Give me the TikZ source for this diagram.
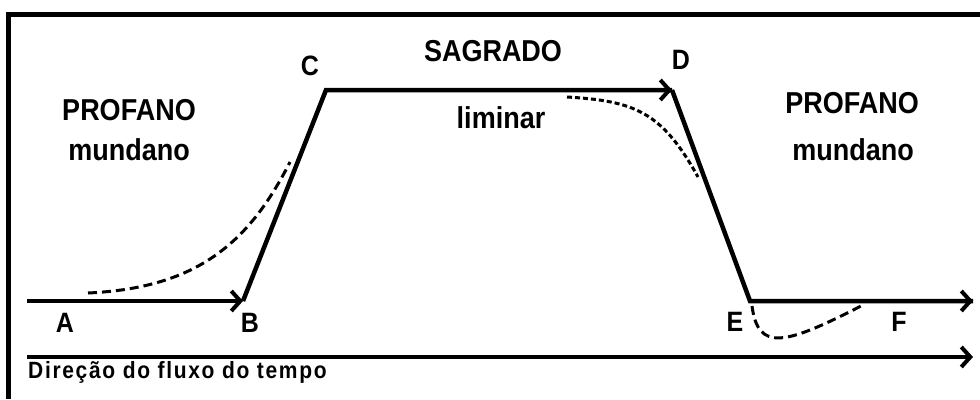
\documentclass[tikz,border=0pt]{standalone}
\usepackage{fontspec}
\setmainfont{Liberation Sans}
\newfontfamily\capfont{Liberation Sans}[LetterSpace=8]
\usetikzlibrary{arrows.meta}
\newcommand{\tallbox}[1]{\scalebox{1}[1.12]{#1}}
\tikzset{
  lbl/.style={font=\fontsize{27}{30}\selectfont\bfseries, inner sep=0pt},
  pt/.style={font=\fontsize{25}{27}\selectfont\bfseries, inner sep=0pt},
  axisline/.style={line width=4.5pt},
  arr/.style={line width=4.5pt, -{Straight Barb[length=9pt,width=20pt,line width=4pt]}},
  dashA/.style={line width=3pt, dash pattern=on 9pt off 5pt},
  dashB/.style={line width=3pt, dash pattern=on 5pt off 3pt},
}
\begin{document}
\begin{tikzpicture}[x=1pt,y=-1pt]
\useasboundingbox (0,0) rectangle (980,399);
% frame
\draw[line width=5pt] (8,399) -- (8,14) -- (980,14);
% points
\coordinate (A0) at (27,301);
\coordinate (Bp) at (243,301);
\coordinate (Cp) at (326,90);
\coordinate (Dp) at (672,90);
\coordinate (Ep) at (750,301);
\coordinate (F1) at (973,301);
\coordinate (T0) at (27,357);
\coordinate (T1) at (973,357);
% main path
\draw[arr] (A0) -- (Bp);
\draw[axisline, line join=miter] (Bp) -- (Cp) -- (Dp);
\draw[arr] (Cp) -- (Dp);
\draw[axisline, line join=miter] (Dp) -- (Ep) -- (F1);
\draw[arr] (Ep) -- (F1);
\draw[arr] (T0) -- (T1);
% dashed curves
\coordinate (d1s) at (88,293);
\coordinate (d1e) at (290,162);
\draw[dashA] (d1s) .. controls (195,288) and (248,245) .. (d1e);
\coordinate (d2s) at (567,97);
\coordinate (d2e) at (698,177);
\draw[dashB] (d2s) .. controls (635,101) and (662,112) .. (d2e);
\coordinate (d3s) at (752,306);
\coordinate (d3e) at (861,306);
\draw[dashA] (d3s) .. controls (758,352) and (785,345) .. (d3e);
% labels
\node[lbl, anchor=base] (p1) at (129,120) {\tallbox{PROFANO}};
\node[lbl, anchor=base] (m1) at (129,160) {\tallbox{mundano}};
\node[lbl, anchor=base] (sg) at (493,61) {\tallbox{SAGRADO}};
\node[lbl, anchor=base] (lm) at (501,128) {\tallbox{liminar}};
\node[lbl, anchor=base] (p2) at (852,113) {\tallbox{PROFANO}};
\node[lbl, anchor=base] (m2) at (853,160) {\tallbox{mundano}};
\node[pt, anchor=base] (la) at (65,332) {\tallbox{A}};
\node[pt, anchor=base] (lb) at (250,332) {\tallbox{B}};
\node[pt, anchor=base] (lc) at (310,75) {\tallbox{C}};
\node[pt, anchor=base] (ld) at (681,69) {\tallbox{D}};
\node[pt, anchor=base] (le) at (735,331) {\tallbox{E}};
\node[pt, anchor=base] (lf) at (899,331) {\tallbox{F}};
\node[anchor=base west, inner sep=0pt, font=\capfont\bfseries\fontsize{21}{23}\selectfont] (cap) at (28,378) {\tallbox{Direção do fluxo do tempo}};
\end{tikzpicture}
\end{document}
